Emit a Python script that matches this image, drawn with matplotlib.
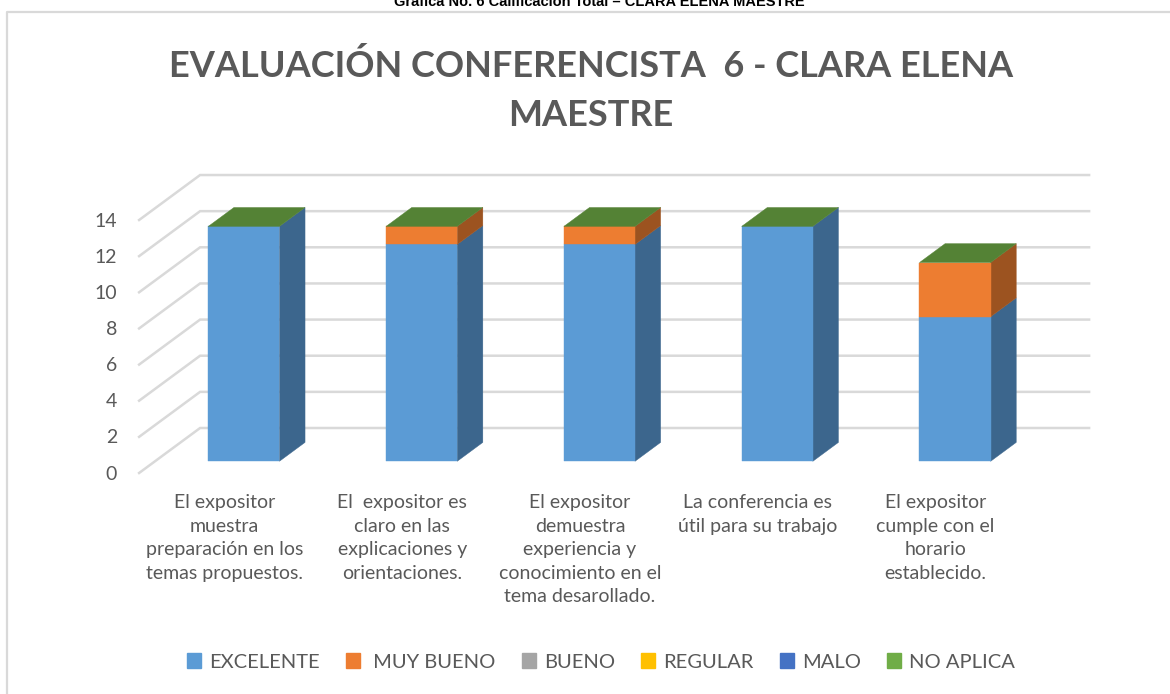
import matplotlib
matplotlib.use("Agg")
import matplotlib.pyplot as plt
import matplotlib.transforms as mtransforms
from matplotlib.patches import Polygon, Patch
from matplotlib.lines import Line2D
import numpy as np

# ---------------- data ----------------
categories = [
    "El expositor\nmuestra\npreparación en los\ntemas propuestos.",
    "El  expositor es\nclaro en las\nexplicaciones y\norientaciones.",
    "El expositor\ndemuestra\nexperiencia y\nconocimiento en el\ntema desarollado.",
    "La conferencia es\nútil para su trabajo",
    "El expositor\ncumple con el\nhorario\nestablecido.",
]
series_names = ["EXCELENTE", " MUY BUENO", "BUENO", "REGULAR", "MALO", "NO APLICA"]
excelente = [13, 12, 12, 13, 8]
muy_bueno = [0, 1, 1, 0, 3]
bueno = [0, 0, 0, 0, 0]
regular = [0, 0, 0, 0, 0]
malo = [0, 0, 0, 0, 0]
no_aplica = [0, 0, 0, 0, 0]
series_values = [excelente, muy_bueno, bueno, regular, malo, no_aplica]
series_colors = ["#5b9bd5", "#ed7d31", "#a5a5a5", "#ffc000", "#4472c4", "#70ad47"]
y_ticks = [0, 2, 4, 6, 8, 10, 12, 14]

title = "EVALUACIÓN CONFERENCISTA  6 - CLARA ELENA\nMAESTRE"
caption = "Grafica No. 6 Calificación Total – CLARA ELENA MAESTRE"

# ---------------- style ----------------
W, H, DPI = 1170, 694, 100
FONT = "Lato"
TXT = "#595959"
GRID = "#d9d9d9"

fig = plt.figure(figsize=(W / DPI, H / DPI), dpi=DPI)
fig.patch.set_facecolor("white")

# axes laid out so that category 0 at depth 0 sits at x=228px, value 0 at y=473px
px_per_cat = 177.8
px_per_val = 18.07
x0_px, y0_px = 228.0, 473.0
xlim = (-1.0, 5.0)
ylim = (-1.0, 17.0)
left_px = x0_px + xlim[0] * px_per_cat
right_px = x0_px + xlim[1] * px_per_cat
bot_px = y0_px - ylim[0] * px_per_val
top_px = y0_px - ylim[1] * px_per_val
ax = fig.add_axes([left_px / W, 1 - bot_px / H, (right_px - left_px) / W, (bot_px - top_px) / H])
ax.set_xlim(*xlim)
ax.set_ylim(*ylim)
ax.axis("off")

# oblique depth vector (full floor depth)
DX = 61.0 / px_per_cat
DY = 45.0 / px_per_val


def proj(x, y, d):
    return (x + d * DX, y + d * DY)


n = len(categories)
xmin, xmax = -0.5, n - 0.5

# gridlines: side wall diagonals and back wall horizontals
for v in y_ticks:
    a = proj(xmin, v, 0)
    b = proj(xmin, v, 1)
    c = proj(xmax, v, 1)
    ax.plot([a[0], b[0], c[0]], [a[1], b[1], c[1]], color=GRID, lw=1.8,
            solid_joinstyle="miter", zorder=1)
    ax.text(xmin, v, str(v), ha="right", va="center", fontsize=14, color=TXT,
            family=FONT,
            transform=mtransforms.offset_copy(ax.transData, fig=fig, x=-22, y=-1, units="dots"))


def shade(color, f):
    r, g, b = matplotlib.colors.to_rgb(color)
    return (r * f, g * f, b * f)


# bars
half = 0.2
dfront, dback = 0.26, 0.68
for i in range(n):
    cum = 0.0
    for s, vals in enumerate(series_values):
        v = vals[i]
        col = series_colors[s]
        if v > 0:
            y1, y2 = cum, cum + v
            front = [proj(i - half, y1, dfront), proj(i + half, y1, dfront),
                     proj(i + half, y2, dfront), proj(i - half, y2, dfront)]
            side = [proj(i + half, y1, dfront), proj(i + half, y1, dback),
                    proj(i + half, y2, dback), proj(i + half, y2, dfront)]
            ax.add_patch(Polygon(side, closed=True, facecolor=shade(col, 0.66),
                                 edgecolor=shade(col, 0.66), lw=0.3, zorder=3))
            ax.add_patch(Polygon(front, closed=True, facecolor=col, edgecolor=col,
                                 lw=0.3, zorder=3))
        cum += v
    # top face belongs to the last stacked series
    topcol = series_colors[-1]
    top = [proj(i - half, cum, dfront), proj(i + half, cum, dfront),
           proj(i + half, cum, dback), proj(i - half, cum, dback)]
    ax.add_patch(Polygon(top, closed=True, facecolor=shade(topcol, 0.75),
                         edgecolor=shade(topcol, 0.75), lw=0.3, zorder=4))

# category labels
for i, lab in enumerate(categories):
    ax.text(i - 0.02, 0, lab, ha="center", va="top", fontsize=14, color=TXT,
            family=FONT, linespacing=1.47, multialignment="center",
            transform=mtransforms.offset_copy(ax.transData, fig=fig, x=0, y=-21, units="dots"))

# title
fig.text(591 / W, 1 - 49 / H, title, ha="center", va="top", fontsize=26,
         fontweight="bold", color=TXT, family=FONT, linespacing=1.6)

# cut caption above the frame
fig.text(599 / W, 1 - 6 / H, caption, ha="center", va="baseline", fontsize=10.5,
         fontweight="bold", color="black", family="Liberation Sans")

# chart frame (top and left edges visible)
fig.add_artist(Line2D([7 / W, 7 / W, 1.0], [0.0, 1 - 12 / H, 1 - 12 / H],
                      transform=fig.transFigure, color=GRID, lw=1.6))

# legend
handles = [Patch(facecolor=c, edgecolor=c) for c in series_colors]
leg = fig.legend(handles, series_names, loc="center", bbox_to_anchor=(601 / W, 1 - 662 / H),
                 ncol=len(series_names), frameon=False,
                 handlelength=0.7, handleheight=0.7, handletextpad=0.4,
                 columnspacing=1.3, prop={"family": FONT, "size": 14.5})
for t in leg.get_texts():
    t.set_color(TXT)

fig.savefig("out.png", dpi=DPI, facecolor="white")
